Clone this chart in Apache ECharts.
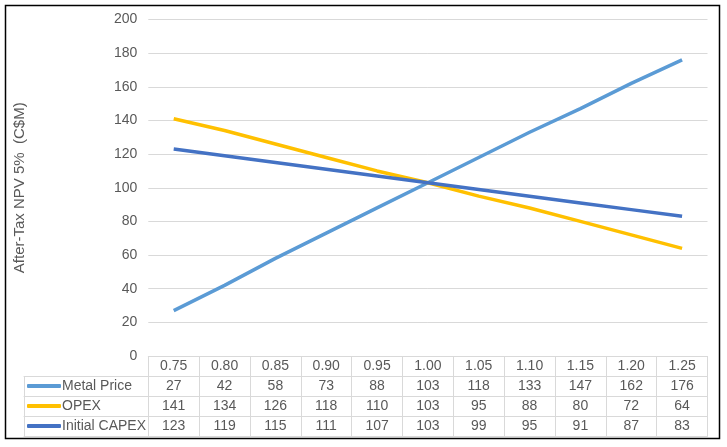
<!DOCTYPE html>
<html>
<head>
<meta charset="utf-8">
<script src="https://cdn.jsdelivr.net/npm/echarts@6/dist/echarts.min.js"></script>
<style>
html,body{margin:0;padding:0;background:#fff;}
#chart{width:727px;height:447px;}
</style>
</head>
<body>
<div id="chart"></div>
<script>
const factors = ['0.75','0.80','0.85','0.90','0.95','1.00','1.05','1.10','1.15','1.20','1.25'];
const metalPrice = [27, 42, 58, 73, 88, 103, 118, 133, 147, 162, 176];
const opex = [141, 134, 126, 118, 110, 103, 95, 88, 80, 72, 64];
const initialCapex = [123, 119, 115, 111, 107, 103, 99, 95, 91, 87, 83];
const seriesNames = ['Metal Price', 'OPEX', 'Initial CAPEX'];
const seriesColors = ['#5B9BD5', '#FFC000', '#4472C4'];
const yAxisTitle = 'After-Tax NPV 5%  (C$M)';

const FONT = 'Liberation Sans, Arial, sans-serif';
const TXT = '#595959';
const GRIDC = '#D9D9D9';
const ROW = 20;
const rows = [factors, metalPrice, opex, initialCapex];

const xAxes = [];
rows.forEach((r, i) => {
  xAxes.push({
    type: 'category',
    gridIndex: 0,
    position: 'bottom',
    offset: i * ROW,
    data: r.map(String),
    boundaryGap: true,
    axisLine: {show: true, onZero: false, lineStyle: {color: GRIDC, width: 1}},
    axisTick: {show: true, interval: 0, alignWithLabel: false, length: ROW, lineStyle: {color: GRIDC, width: 1}},
    axisLabel: {show: true, interval: 0, margin: 0, fontSize: 14, lineHeight: ROW, color: TXT, fontFamily: FONT},
    splitLine: {show: false}
  });
});
// bottom border of the table
xAxes.push({
  type: 'category', gridIndex: 0, position: 'bottom', offset: rows.length * ROW,
  data: factors, boundaryGap: true,
  axisLine: {show: true, onZero: false, lineStyle: {color: GRIDC, width: 1}},
  axisTick: {show: false}, axisLabel: {show: false}
});
// left legend column of the table (grid 1)
for (let i = 1; i <= rows.length; i++) {
  xAxes.push({
    type: 'category', gridIndex: 1, position: 'bottom', offset: i * ROW,
    data: [''], boundaryGap: true,
    axisLine: {show: true, onZero: false, lineStyle: {color: GRIDC, width: 1}},
    axisTick: {show: i < rows.length, interval: 0, length: ROW, lineStyle: {color: GRIDC, width: 1}},
    axisLabel: {show: false}
  });
}

const chart = echarts.init(document.getElementById('chart'), null, {renderer: 'canvas'});
chart.setOption({
  backgroundColor: '#fff',
  animation: false,
  textStyle: {fontFamily: FONT},
  color: seriesColors,
  grid: [
    {left: 148.3, right: 19.5, top: 19.5, bottom: 91, containLabel: false},
    {left: 24, width: 124.3, top: 19.5, bottom: 91, containLabel: false}
  ],
  legend: {
    orient: 'vertical',
    left: 27,
    top: 376,
    padding: 0,
    itemGap: 0,
    itemWidth: 34,
    itemHeight: 4,
    icon: 'roundRect',
    data: seriesNames,
    textStyle: {fontSize: 14, color: TXT, lineHeight: ROW, fontFamily: FONT, padding: [0, 0, 0, -4]}
  },
  xAxis: xAxes,
  yAxis: [
    {
      type: 'value', gridIndex: 0, min: 0, max: 200, interval: 20,
      name: yAxisTitle, nameLocation: 'middle', nameGap: 121,
      nameTextStyle: {fontSize: 15, color: TXT, fontFamily: FONT},
      axisLine: {show: false}, axisTick: {show: false},
      axisLabel: {fontSize: 14, color: TXT, margin: 11, fontFamily: FONT},
      splitLine: {show: true, lineStyle: {color: GRIDC, width: 1}}
    },
    {type: 'value', gridIndex: 1, min: 0, max: 1, show: false}
  ],
  series: [
    {name: seriesNames[0], type: 'line', xAxisIndex: 0, yAxisIndex: 0, data: metalPrice, symbol: 'none', lineStyle: {width: 3.5, color: seriesColors[0]}},
    {name: seriesNames[1], type: 'line', xAxisIndex: 0, yAxisIndex: 0, data: opex, symbol: 'none', lineStyle: {width: 3.5, color: seriesColors[1]}},
    {name: seriesNames[2], type: 'line', xAxisIndex: 0, yAxisIndex: 0, data: initialCapex, symbol: 'none', lineStyle: {width: 3.5, color: seriesColors[2]}}
  ],
  graphic: [
    {type: 'rect', silent: true, z: 100, shape: {x: 5.5, y: 5.5, width: 714, height: 433}, style: {fill: 'none', stroke: '#000', lineWidth: 1.5}}
  ]
});
</script>
</body>
</html>
